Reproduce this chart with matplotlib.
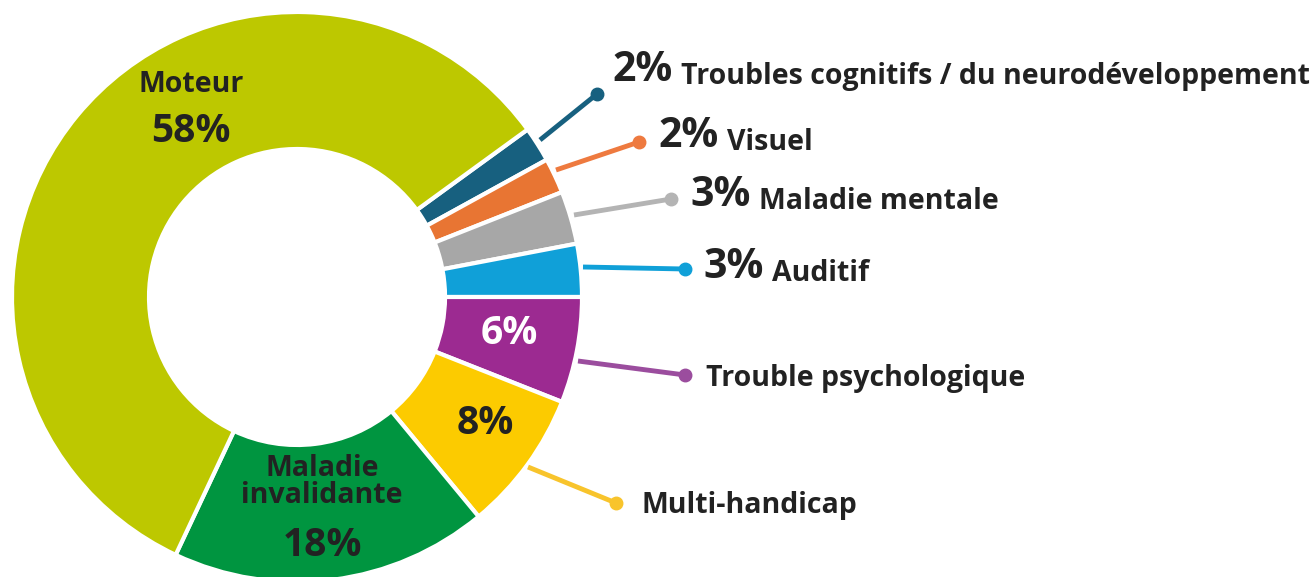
import matplotlib.pyplot as plt

labels = ['Troubles cognitifs / du neurodéveloppement', 'Visuel', 'Maladie mentale',
          'Auditif', 'Trouble psychologique', 'Multi-handicap',
          'Maladie invalidante', 'Moteur']
values = [2, 2, 3, 3, 6, 8, 18, 58]
colors = ['#17607f', '#e87533', '#a7a7a7', '#10a0d8', '#9c2a91', '#fccb00',
          '#009540', '#bdc800']
line_colors = ['#17607f', '#ee7a3f', '#b4b4b4', '#10a0d8', '#9b4d9e', '#f8c42c']

W, H = 1312, 577
plt.rcParams['font.family'] = ['Open Sans', 'DejaVu Sans']
fig = plt.figure(figsize=(W / 100, H / 100), dpi=100)
ax = fig.add_axes([0, 0, 1, 1])

def Y(y):
    # pixel row from top -> data y
    return H - y

ax.pie(values, colors=colors, startangle=36, counterclock=False,
       radius=285, center=(297, Y(297)),
       wedgeprops=dict(width=137, edgecolor='white', linewidth=3))
ax.set_xlim(0, W)
ax.set_ylim(0, H)
ax.set_aspect('auto')
ax.set_axis_off()

dark = '#222222'
lab_fs = 20.5
pct_fs = 29.5
in_fs = 28

# outside labels: line start, dot, text x, text baseline
outer = [
    ((540, 140), (597, 94), 612, 81, True),
    ((556, 170), (639, 142), 658, 147, True),
    ((574, 215), (671, 199), 690, 206, True),
    ((583, 267), (685, 269), 703, 278, True),
    ((578, 361), (685, 375), 706, 386, False),
    ((528, 467), (616, 503), 641, 513, False),
]
for i, (p0, p1, tx, ty, with_pct) in enumerate(outer):
    c = line_colors[i]
    ax.plot([p0[0], p1[0]], [Y(p0[1]), Y(p1[1])], color=c, lw=3.5,
            solid_capstyle='butt')
    ax.plot(p1[0], Y(p1[1]), 'o', color=c, ms=9)
    if with_pct:
        t = ax.text(tx, Y(ty), f'{values[i]}%', fontsize=pct_fs, fontweight='bold',
                    color=dark, va='baseline', ha='left')
        ax.annotate(labels[i], xy=(1, 0), xycoords=t, xytext=(6, 0),
                    textcoords='offset points', fontsize=lab_fs, fontweight='bold',
                    color=dark, va='bottom', ha='left')
    else:
        ax.text(tx, Y(ty), labels[i], fontsize=lab_fs, fontweight='bold',
                color=dark, va='baseline', ha='left')

# inside labels
ax.text(191, Y(85), 'Moteur', fontsize=lab_fs, fontweight='bold', color=dark,
        ha='center', va='center')
ax.text(191, Y(132), f'{values[7]}%', fontsize=in_fs, fontweight='bold',
        color=dark, ha='center', va='center')
ax.text(322, Y(482), 'Maladie\ninvalidante', fontsize=lab_fs, fontweight='bold',
        color=dark, ha='center', va='center', linespacing=0.95)
ax.text(322, Y(546), f'{values[6]}%', fontsize=in_fs, fontweight='bold',
        color=dark, ha='center', va='center')
ax.text(485, Y(424), f'{values[5]}%', fontsize=in_fs, fontweight='bold',
        color=dark, ha='center', va='center')
ax.text(509, Y(333), f'{values[4]}%', fontsize=in_fs, fontweight='bold',
        color='white', ha='center', va='center')

fig.savefig('out.png', dpi=100)
